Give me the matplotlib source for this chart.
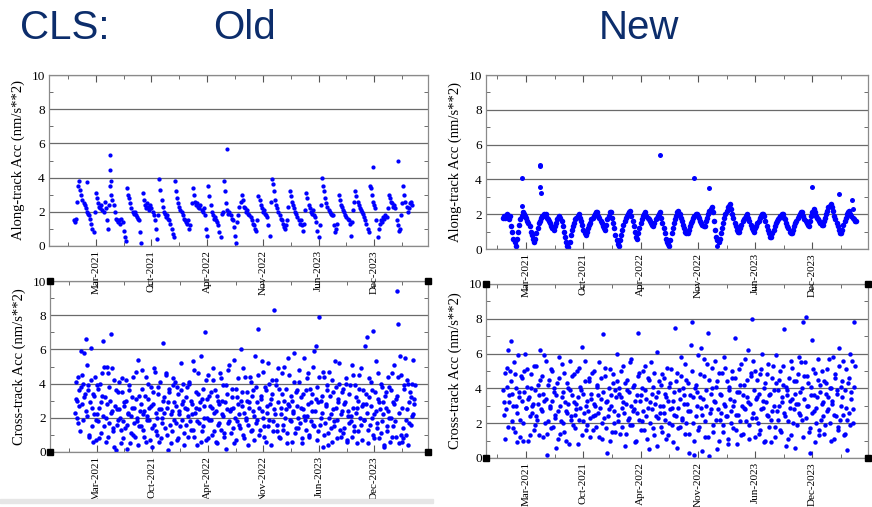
import numpy as np
import matplotlib
matplotlib.use('Agg')
import matplotlib.pyplot as plt
from matplotlib.ticker import MultipleLocator, FixedLocator
from matplotlib.patches import Rectangle

plt.rcParams['font.family'] = ['Liberation Serif', 'DejaVu Serif']

# time axis in days, one labelled tick every 200 days
tick_days = [0, 200, 400, 600, 800, 1000]
tick_labels = ['Mar-2021', 'Oct-2021', 'Apr-2022', 'Nov-2022', 'Jun-2023', 'Dec-2023']
step_days = 4

# ---- Old, along-track (one value every 4 days from day -80)
old_along_start = -80
old_along = [
    1.5, 1.4, 1.6, 2.6, 3.5, 3.8, 3.3, 3.0, 2.7, 2.5, 2.4, 2.2, 2.0, 1.9, 1.8, 1.6, 1.3, 1.0, 0.8,
    2.0, 3.1, 2.8, 2.5, 2.3, 2.2, 2.4, 2.1, 2.0, 2.6, 2.2, 1.5, 1.0, 2.4,
    3.5, 3.0, 2.7, 2.4, 2.0, 1.6, 1.5, 1.4, 1.5, 1.3, 1.6, 1.4, 0.9, 0.5,
    0.3, 3.4, 3.0, 2.8, 2.5, 2.2, 2.0, 1.9, 2.0, 1.8, 1.7, 1.6, 1.5, 0.8,
    0.2, 3.1, 2.7, 2.4, 2.2, 2.5, 2.3, 2.1, 2.4, 2.2, 2.0, 1.8, 1.5, 1.0, 0.4,
    1.8, 3.9, 3.3, 2.7, 2.3, 2.0, 1.9, 1.7, 1.8, 1.6, 1.5, 1.3, 1.0, 0.7, 0.5,
    3.8, 3.2, 2.8, 2.5, 2.3, 2.1, 2.0, 1.8, 1.6, 1.5, 1.4, 1.3, 1.5, 1.0, 1.2,
    2.5, 3.4, 3.0, 2.6, 2.4, 2.5, 2.3, 2.2, 2.4, 2.1, 2.0, 2.2, 1.8, 1.0, 0.6,
    3.5, 2.9, 2.4, 2.0, 1.8, 1.6, 1.7, 1.5, 1.4, 1.2, 0.8, 0.5, 1.9, 2.0,
    3.8, 3.2, 2.5, 2.1, 1.9, 2.0, 1.8, 1.6, 1.5, 1.1, 0.6, 0.2, 1.4, 1.8, 2.3,
    2.6, 3.0, 2.7, 2.3, 2.2, 2.0, 2.1, 1.9, 1.8, 1.7, 1.5, 1.3, 1.2, 1.0, 0.9,
    1.5, 2.9, 2.7, 2.4, 2.2, 2.0, 2.1, 1.9, 1.8, 1.7, 1.2, 0.6,
    2.6, 3.9, 3.6, 3.2, 2.7, 2.4, 2.2, 2.0, 1.8, 1.6, 1.5, 1.3, 1.1, 1.0, 1.2, 1.5, 2.3,
    3.2, 2.9, 2.6, 2.4, 2.2, 2.0, 1.9, 1.7, 1.5, 1.3, 1.5, 1.2, 0.9, 1.3, 2.1,
    3.1, 2.8, 2.4, 2.2, 2.0, 1.9, 2.1, 1.8, 1.7, 1.4, 0.9, 0.5, 1.2, 2.4,
    4.0, 3.5, 3.2, 2.8, 2.5, 2.3, 2.1, 2.0, 1.9, 1.8, 1.8, 1.2, 0.8, 1.0, 1.3,
    3.0, 2.7, 2.4, 2.3, 2.1, 2.0, 1.8, 1.7, 1.6, 1.5, 1.3, 0.6, 1.4, 2.1, 2.6,
    3.2, 2.9, 2.6, 2.4, 2.2, 2.1, 2.0, 1.9, 1.7, 1.5, 1.3, 1.0, 0.8, 3.5,
    3.4, 3.0, 2.6, 2.4, 2.2, 1.5, 0.5, 1.0, 1.3, 1.5, 1.4, 1.7, 1.6, 1.8, 1.7,
    2.2, 3.0, 2.8, 2.6, 2.5, 2.3, 2.4, 2.2, 1.5, 1.2, 0.9, 1.0, 1.8,
    2.5, 3.5, 3.0, 2.6, 2.3, 2.0, 2.2, 2.5, 2.6, 2.4,
]
old_along_spike_days = [-30, 52, 52, 53, 470, 995, 1087]
old_along_spike_vals = [3.75, 5.35, 4.45, 3.8, 5.7, 4.6, 4.95]

# ---- New, along-track (one value every 4 days from day -80)
new_along_start = -80
new_along = [
    1.8, 1.9, 1.8, 2.0, 1.9, 1.7, 1.9,
    1.3, 1.0, 0.6, 0.4, 0.2,
    0.6, 1.0, 1.4, 1.7, 1.9, 2.1, 2.0,
    1.9, 1.8, 1.6, 1.5, 1.3, 1.0, 0.8, 0.6, 0.4,
    0.6, 0.9, 1.2, 1.5, 1.6, 1.8, 1.9, 1.9, 2.0, 2.0,
    1.8, 1.7, 1.6, 1.5, 1.3, 1.2, 1.1, 1.3, 1.5, 1.7, 1.8, 1.9, 1.8,
    1.6, 1.3, 1.0, 0.7, 0.4, 0.2, 0.1,
    0.4, 0.8, 1.1, 1.3, 1.5, 1.7, 1.8, 1.9, 2.0,
    1.8, 1.6, 1.4, 1.1, 0.9, 0.8,
    1.0, 1.2, 1.4, 1.5, 1.7, 1.8, 1.9, 2.0, 2.1, 2.1,
    1.9, 1.8, 1.6, 1.5, 1.3, 1.2, 1.1,
    1.4, 1.7, 1.9, 2.1, 2.1,
    1.8, 1.5, 1.2, 0.8, 0.5, 0.3, 0.2,
    0.5, 0.8, 1.1, 1.4, 1.6, 1.8, 1.9, 2.0, 2.1, 2.2,
    1.9, 1.6, 1.3, 1.0, 0.7, 0.6,
    0.9, 1.2, 1.5, 1.7, 1.9, 2.0, 2.1,
    1.9, 1.8, 1.7, 1.6, 1.5, 1.4, 1.3,
    1.5, 1.7, 1.8, 1.9, 2.0, 2.1,
    1.8, 1.5, 1.2, 0.9, 0.6, 0.4, 0.3, 0.2,
    0.5, 0.9, 1.2, 1.5, 1.7, 1.9, 2.1, 2.2,
    2.0, 1.8, 1.6, 1.4, 1.2, 1.0, 0.9, 0.9,
    1.1, 1.3, 1.5, 1.6, 1.8, 1.9, 2.0, 2.0,
    1.9, 1.8, 1.6, 1.5, 1.4, 1.3, 1.3,
    1.6, 1.8, 2.0, 2.2, 2.3, 2.4,
    2.1, 1.6, 1.1, 0.7, 0.5, 0.4,
    0.6, 0.9, 1.2, 1.5, 1.8, 2.0, 2.2, 2.4, 2.5, 2.6,
    2.3, 2.0, 1.8, 1.5, 1.3, 1.1, 1.0, 1.0,
    1.2, 1.4, 1.6, 1.7, 1.8, 1.9, 2.0,
    1.8, 1.6, 1.4, 1.2, 1.1, 1.0,
    1.2, 1.3, 1.5, 1.6, 1.8, 1.9, 2.0, 2.0, 1.9,
    1.6, 1.3, 1.1, 0.9, 0.7, 0.7,
    0.9, 1.1, 1.3, 1.5, 1.6, 1.7, 1.8, 1.9, 2.0, 2.0,
    1.8, 1.7, 1.5, 1.3, 1.2, 1.0, 0.9, 0.9,
    1.1, 1.3, 1.5, 1.6, 1.8, 1.9, 2.0, 2.1, 2.1,
    1.9, 1.7, 1.6, 1.5, 1.4, 1.3,
    1.6, 1.9, 2.1, 2.3,
    2.1, 1.9, 1.8, 1.7, 1.6, 1.5, 1.4, 1.4,
    1.6, 1.8, 2.0, 2.2, 2.4, 2.5, 2.6,
    2.4, 2.2, 1.9, 1.7, 1.5, 1.3, 1.1, 0.9, 0.9,
    1.1, 1.4, 1.6, 1.8, 2.0, 2.1, 2.2,
    2.0, 1.9, 1.8, 1.7, 1.6, 1.6,
]
new_along_spike_days = [-15, -14, 48, 50, 49, 51, 468, 587, 640, 668, 998, 1091, 1137, 1143]
new_along_spike_vals = [4.1, 2.45, 4.8, 4.75, 3.55, 3.2, 5.4, 4.1, 3.5, 0.15, 3.55, 3.15, 2.8, 2.3]

# ---- Old, cross-track: two interleaved 4-day samplings (a from day -78, b from day -76)
old_cross_start = -78
old_cross = [
    2.3, 4.1, 3.0, 1.7, 3.6, 5.9, 2.8, 4.0, 5.8, 3.4, 6.6, 2.1, 3.9, 1.0, 6.1, 2.6, 0.6, 3.3, 4.4, 1.9,
    2.2, 3.7, 0.8, 2.9, 4.6, 6.5, 1.5, 3.2, 2.0, 5.0, 0.9, 3.8, 6.9, 2.4, 1.2, 4.2, 2.7, 0.1, 1.6, 3.5,
    2.5, 0.5, 4.3, 1.8, 2.9, 1.4, 3.0, 0.2, 2.2, 3.6, 1.1, 2.6, 4.4, 1.7, 0.9, 3.1, 2.0, 5.4, 1.5, 2.8,
    4.8, 1.3, 2.4, 3.3, 0.6, 2.1, 4.0, 1.9, 2.7, 0.3, 3.5, 1.6, 4.7, 2.3, 1.0, 3.8, 2.5, 0.8, 2.0, 6.4,
    3.2, 1.4, 4.5, 2.6, 0.1, 3.7, 2.2, 1.2, 3.9, 2.9, 4.1, 1.7, 0.7, 3.4, 2.4, 5.2, 1.9, 3.0, 0.4, 2.6,
    1.6, 3.8, 2.1, 4.0, 1.3, 2.8, 5.3, 0.9, 2.3, 3.5, 1.8, 4.6, 2.5, 0.6, 3.1, 1.5, 2.7, 7.0, 4.2, 2.0,
    0.8, 3.3, 1.9, 2.6, 4.9, 1.2, 3.6, 2.4, 0.5, 3.0, 1.7, 4.3, 2.2, 3.9, 1.1, 2.9, 0.2, 3.4, 4.8, 1.8,
    2.5, 3.7, 1.4, 5.4, 2.0, 0.7, 3.2, 2.8, 1.6, 6.0, 3.5, 1.0, 2.3, 4.4, 1.9, 3.0, 0.4, 2.6, 4.1, 1.3,
    3.6, 2.1, 5.6, 1.7, 2.9, 7.2, 1.0, 3.3, 2.4, 4.7, 1.5, 3.8, 0.6, 2.7, 5.2, 1.9, 3.1, 4.2, 1.2, 8.3,
    2.2, 3.9, 1.6, 4.9, 0.9, 2.6, 3.4, 1.3, 5.0, 2.0, 3.7, 0.5, 2.8, 4.5, 1.8, 3.0, 2.3, 5.8, 1.1, 3.5,
    2.7, 1.4, 4.1, 3.2, 0.8, 2.5, 5.5, 1.9, 3.6, 2.1, 4.6, 1.0, 2.9, 3.4, 1.6, 5.9, 2.4, 6.2, 3.8, 1.2,
    7.9, 2.0, 3.3, 0.3, 4.4, 1.7, 2.8, 3.9, 1.1, 4.7, 2.2, 0.6, 3.5, 1.5, 5.3, 2.6, 1.9, 3.1, 4.0, 0.9,
    2.4, 3.7, 1.4, 2.9, 4.3, 0.7, 2.1, 3.4, 1.8, 5.1, 2.6, 1.2, 3.9, 2.3, 0.5, 3.0, 4.5, 1.6, 2.7, 3.6,
    1.9, 6.2, 2.8, 6.7, 1.3, 3.2, 4.1, 2.0, 7.1, 0.8, 3.5, 2.4, 1.7, 4.6, 2.9, 1.1, 3.8, 2.2, 0.4, 3.3,
    2.6, 1.5, 4.4, 2.0, 3.6, 0.9, 2.9, 5.1, 1.8, 3.1, 9.4, 7.5, 2.3, 4.5, 0.6, 1.4, 3.9, 5.5, 1.0, 2.5,
    4.0, 1.7, 3.2, 2.1, 5.4, 2.8, 3.9,
]
old_cross_b_start = -76
old_cross_b = [
    3.1, 2.0, 4.4, 2.7, 1.2, 3.8, 4.5, 1.9, 3.2, 2.4, 5.1, 3.6, 0.9, 2.9, 4.2, 1.5, 3.4, 2.2, 0.7, 3.9,
    1.8, 2.6, 4.0, 1.1, 3.3, 2.1, 5.0, 0.6, 2.8, 4.6, 1.7, 3.0, 2.3, 4.9, 1.4, 0.3, 3.6, 2.5, 1.9, 4.1,
    2.0, 1.3, 3.5, 0.8, 2.7, 4.2, 1.6, 2.3, 3.9, 0.5, 2.1, 3.2, 1.0, 2.6, 4.7, 1.8, 0.4, 3.3, 2.4, 1.5,
    3.7, 2.2, 0.9, 4.4, 1.9, 3.1, 2.6, 0.7, 3.8, 1.4, 2.8, 4.9, 1.2, 2.0, 3.4, 0.6, 4.1, 2.5, 1.7, 3.0,
    2.3, 4.6, 1.0, 2.9, 3.5, 1.6, 0.5, 2.4, 4.3, 1.9, 2.7, 3.8, 0.8, 2.2, 1.5, 3.6, 2.8, 4.0, 1.1, 3.2,
    2.5, 0.9, 4.1, 1.8, 3.0, 2.2, 1.3, 4.8, 2.6, 0.4, 3.4, 1.7, 2.9, 5.6, 1.2, 3.7, 2.0, 0.7, 3.1, 4.5,
    1.9, 2.7, 3.5, 1.0, 4.2, 2.3, 0.6, 3.3, 1.6, 2.8, 4.6, 1.3, 3.0, 2.1, 0.9, 3.9, 2.5, 1.7, 5.1, 2.4,
    1.1, 3.2, 2.6, 0.5, 3.7, 1.8, 4.3, 2.2, 1.4, 3.0, 2.7, 4.9, 0.8, 2.0, 3.5, 1.6, 2.9, 4.4, 1.2, 3.3,
    2.4, 0.7, 3.8, 1.9, 4.5, 2.6, 1.3, 3.1, 5.3, 2.0, 0.9, 3.6, 2.3, 1.5, 4.0, 2.8, 0.4, 3.4, 1.8, 2.5,
    4.2, 1.2, 2.9, 3.7, 0.8, 2.2, 4.6, 1.6, 3.0, 2.5, 1.1, 5.5, 2.7, 1.9, 3.3, 0.6, 2.4, 4.1, 1.4, 3.6,
    2.0, 4.8, 1.7, 2.6, 0.5, 3.4, 2.1, 1.3, 4.3, 2.8, 0.9, 3.7, 1.8, 2.4, 5.0, 1.5, 3.1, 0.7, 2.9, 4.4,
    1.6, 3.0, 2.3, 4.7, 1.0, 2.7, 3.6, 0.4, 2.0, 3.3, 1.4, 4.2, 2.5, 1.8, 3.8, 0.8, 2.9, 5.2, 1.3, 2.2,
    3.5, 1.1, 2.8, 4.0, 0.6, 2.4, 1.7, 3.9, 2.1, 0.9, 4.5, 1.5, 3.2, 2.6, 1.2, 3.7, 2.0, 4.9, 0.7, 2.8,
    1.9, 3.4, 2.3, 0.5, 4.3, 1.6, 2.7, 3.6, 1.0, 2.2, 5.3, 1.4, 3.1, 0.8, 2.5, 4.0, 1.8, 2.9, 0.3, 3.5,
    1.2, 2.4, 3.8, 0.6, 2.0, 4.6, 1.5, 2.8, 0.9, 3.3, 4.4, 0.5, 5.6, 1.0, 2.6, 0.8, 3.7, 1.9, 4.2, 0.4,
    2.9, 3.5, 1.6, 4.0, 2.2, 3.1,
]

# ---- New, cross-track: two interleaved 4-day samplings (a from day -80, b from day -78)
new_cross_start = -80
new_cross = [
    3.9, 2.5, 1.1, 4.1, 6.2, 3.2, 5.0, 6.7, 3.7, 1.7, 4.8, 3.0, 0.9, 5.9, 3.5, 2.2, 4.6, 1.0, 3.8, 6.0,
    2.9, 5.1, 3.4, 1.3, 4.0, 2.6, 3.1, 5.3, 1.9, 2.4, 4.2, 3.6, 6.2, 2.8, 4.7, 1.2, 3.3, 5.6, 0.2, 2.1,
    4.5, 3.0, 1.7, 5.0, 3.8, 2.3, 0.6, 4.3, 2.7, 5.8, 1.4, 3.5, 2.0, 4.9, 3.2, 1.0, 2.6, 4.0, 5.6, 2.2,
    3.6, 1.9, 4.8, 2.5, 3.1, 0.8, 5.2, 2.9, 3.9, 6.4, 2.1, 4.4, 1.6, 3.3, 2.7, 4.6, 1.2, 3.7, 2.4, 5.0,
    3.0, 1.8, 4.1, 2.6, 5.5, 3.4, 1.1, 7.1, 2.3, 4.7, 3.2, 0.3, 2.8, 5.1, 3.6, 1.5, 4.3, 2.0, 3.9, 6.0,
    2.5, 4.0, 1.4, 3.5, 2.9, 5.3, 0.7, 3.1, 4.5, 2.2, 3.8, 1.9, 5.7, 2.7, 4.2, 3.3, 1.0, 2.6, 7.2, 4.9,
    3.6, 2.1, 5.0, 1.6, 3.9, 2.4, 4.6, 0.5, 3.2, 5.5, 2.8, 4.1, 1.3, 3.5, 6.1, 2.3, 4.4, 3.0, 1.8, 4.8,
    2.6, 3.7, 1.1, 5.2, 3.3, 2.0, 4.3, 2.9, 0.9, 3.8, 7.5, 2.4, 4.9, 1.7, 3.4, 5.8, 2.2, 4.0, 3.1, 1.4,
    4.5, 2.7, 0.3, 3.6, 6.5, 7.8, 2.0, 0.2, 4.2, 3.0, 5.9, 1.8, 3.5, 6.3, 2.5, 4.7, 1.2, 3.9, 5.4, 7.2,
    0.1, 2.8, 4.0, 1.5, 3.3, 5.6, 2.2, 4.4, 1.0, 3.7, 2.6, 4.9, 1.9, 3.1, 5.2, 2.4, 0.8, 4.1, 3.4, 2.0,
    4.6, 3.0, 6.9, 1.6, 3.8, 2.5, 5.1, 4.2, 1.3, 3.6, 2.9, 5.7, 2.1, 4.5, 3.2, 1.1, 4.9, 8.0, 2.6, 3.9,
    5.0, 2.3, 3.5, 1.4, 4.8, 2.8, 6.0, 3.3, 0.9, 4.3, 2.5, 5.4, 1.8, 3.7, 2.2, 4.6, 3.0, 1.2, 5.9, 2.7,
    3.9, 4.5, 1.6, 3.2, 5.3, 7.4, 2.4, 4.1, 3.6, 1.1, 2.9, 5.6, 3.4, 2.0, 4.4, 0.6, 3.1, 4.8, 2.6, 3.8,
    5.5, 2.2, 7.8, 4.7, 8.1, 3.0, 4.3, 1.5, 0.3, 3.6, 6.8, 2.7, 4.9, 2.0, 3.5, 5.7, 1.3, 4.2, 3.1, 2.4,
    4.4, 1.9, 3.7, 5.1, 2.8, 4.0, 1.0, 3.3, 5.8, 2.5, 4.6, 3.9, 1.6, 6.3, 2.2, 4.1, 3.5, 5.6, 1.4, 2.9,
    0.45, 4.3, 2.6, 6.0, 3.8, 2.0, 7.8, 5.3,
]
new_cross_b_start = -78
new_cross_b = [
    3.2, 4.9, 2.8, 5.2, 1.8, 3.6, 4.4, 2.1, 3.0, 5.5, 1.5, 4.0, 2.6, 3.8, 1.2, 4.7, 3.3, 2.0, 5.0, 2.9,
    4.1, 1.0, 3.5, 2.4, 4.8, 3.0, 1.6, 3.9, 5.3, 2.2, 3.1, 1.3, 4.5, 2.7, 3.7, 5.9, 2.0, 3.4, 1.4, 4.2,
    2.9, 5.1, 3.3, 1.8, 4.0, 2.5, 3.6, 1.1, 4.6, 3.0, 2.1, 5.4, 3.8, 1.5, 2.7, 4.3, 3.1, 0.8, 3.9, 2.4,
    4.7, 3.2, 1.7, 2.8, 5.0, 3.5, 2.2, 4.1, 1.3, 3.7, 2.6, 5.6, 3.0, 1.9, 4.4, 2.3, 3.4, 4.9, 1.6, 3.1,
    2.5, 4.2, 3.6, 1.2, 2.9, 4.6, 2.0, 3.8, 5.2, 1.7, 3.3, 2.4, 4.0, 1.0, 3.0, 4.8, 2.7, 1.5, 3.5, 4.4,
    2.1, 3.7, 5.0, 1.8, 3.2, 2.6, 4.3, 1.4, 3.9, 2.3, 5.5, 3.0, 1.9, 4.1, 2.8, 0.9, 3.6, 4.7, 2.2, 3.3,
    1.6, 4.0, 2.7, 5.3, 3.4, 1.1, 2.9, 4.5, 2.0, 3.7, 1.7, 4.9, 3.1, 2.4, 0.7, 3.8, 2.6, 4.2, 1.5, 3.0,
    4.6, 2.2, 3.5, 1.3, 4.1, 2.8, 5.1, 1.9, 3.3, 2.5, 4.4, 0.6, 2.9, 3.9, 1.8, 4.7, 2.3, 3.6, 5.4, 2.0,
    3.1, 4.3, 1.4, 2.7, 5.0, 3.5, 1.0, 4.0, 2.4, 3.8, 1.6, 4.8, 2.9, 0.4, 3.4, 5.7, 2.1, 3.0, 1.2, 4.5,
    2.6, 3.7, 5.2, 1.9, 3.2, 4.1, 0.5, 2.8, 4.9, 2.2, 3.6, 1.5, 5.8, 3.0, 2.4, 4.4, 1.1, 3.9, 2.7, 5.0,
    1.7, 3.3, 4.6, 2.5, 0.8, 3.8, 2.1, 5.4, 3.0, 1.4, 4.2, 2.8, 3.5, 6.2, 1.9, 3.1, 4.7, 2.3, 5.6, 1.2,
    3.4, 4.5, 2.0, 3.7, 1.6, 5.1, 2.9, 4.0, 1.0, 3.2, 4.8, 2.4, 3.6, 0.9, 2.7, 5.3, 3.9, 1.8, 4.3, 2.2,
    3.0, 5.0, 1.5, 3.5, 4.2, 2.6, 0.7, 3.9, 2.1, 4.6, 3.3, 1.3, 5.2, 2.8, 3.7, 4.4, 1.9, 3.1, 5.8, 2.5,
    4.0, 1.2, 3.4, 5.5, 2.3, 4.7, 3.0, 1.7, 4.1, 2.6, 5.1, 3.6, 0.9, 2.9, 4.5, 1.6, 3.8, 2.2, 5.0, 3.2,
    1.4, 4.3, 2.7, 3.5, 5.7, 2.0, 4.0, 3.1, 1.1, 4.8, 2.4, 3.7, 1.8, 5.3, 3.0, 4.4, 2.5, 1.3, 3.9, 5.1,
    2.2, 4.6, 1.9, 3.4, 5.6, 2.8, 4.1,
]

W, H = 872, 507
fig = plt.figure(figsize=(W / 100, H / 100), dpi=100)
blue = '#0000ff'
navy = '#0c2d6b'


def make_axes(x0, x1, ytop, ybot, xlim, ylabel):
    ax = fig.add_axes([x0 / W, 1 - ybot / H, (x1 - x0) / W, (ybot - ytop) / H])
    ax.set_xlim(*xlim)
    ax.set_ylim(0, 10)
    ax.xaxis.set_major_locator(FixedLocator(tick_days))
    ax.set_xticklabels(tick_labels, rotation=90, fontsize=8)
    ax.xaxis.set_minor_locator(MultipleLocator(100))
    ax.yaxis.set_major_locator(MultipleLocator(2))
    ax.yaxis.set_minor_locator(MultipleLocator(1))
    ax.tick_params(which='both', direction='in', top=True, right=True, color='#555555')
    ax.tick_params(axis='x', which='major', length=5, pad=3)
    ax.tick_params(axis='x', which='minor', length=3)
    ax.tick_params(axis='y', which='major', length=0, labelsize=9.5, pad=3)
    ax.tick_params(axis='y', which='minor', length=3)
    ax.yaxis.grid(True, color='#6a6a6a', lw=0.9)
    ax.set_axisbelow(True)
    for s in ax.spines.values():
        s.set_color('#8a8a8a')
        s.set_linewidth(0.9)
    ax.set_ylabel(ylabel, fontsize=10.5, labelpad=5)
    return ax


def series_days(start, vals):
    return start + step_days * np.arange(len(vals))


def corner_handles(ax):
    ax.plot([0, 1, 0, 1], [0, 0, 1, 1], 's', transform=ax.transAxes, color='black',
            ms=4, clip_on=False, zorder=6)


along_lbl = 'Along-track Acc (nm/s**2)'
cross_lbl = 'Cross-track Acc (nm/s**2)'

# bottom row first so the top row's date labels sit over it
bl = make_axes(50, 428, 281, 452, (-168, 1193), cross_lbl)
bl.set_facecolor('none')
bl.plot(series_days(old_cross_start, old_cross), old_cross, 'o', color=blue, ms=3.2, mew=0)
bl.plot(series_days(old_cross_b_start, old_cross_b), old_cross_b, 'o', color=blue, ms=3.2, mew=0)
corner_handles(bl)

br = make_axes(486, 868, 284, 458, (-140, 1194), cross_lbl)
br.set_facecolor('none')
br.plot(series_days(new_cross_start, new_cross), new_cross, 'o', color=blue, ms=3.2, mew=0)
br.plot(series_days(new_cross_b_start, new_cross_b), new_cross_b, 'o', color=blue, ms=3.2, mew=0)
corner_handles(br)

tl = make_axes(49, 428, 75, 246, (-168, 1193), along_lbl)
tl.plot(series_days(old_along_start, old_along), old_along, 'o', color=blue, ms=3.1, mew=0)
tl.plot(old_along_spike_days, old_along_spike_vals, 'o', color=blue, ms=3.0, mew=0)

tr = make_axes(486, 868, 75, 249, (-140, 1194), along_lbl)
tr.plot(series_days(new_along_start, new_along), new_along, 'o', color=blue, ms=4.0, mew=0)
tr.plot(new_along_spike_days, new_along_spike_vals, 'o', color=blue, ms=3.6, mew=0)

# slide heading
for txt, xp in [('CLS:', 20), ('Old', 213), ('New', 599)]:
    fig.text(xp / W, 1 - 39 / H, txt, fontsize=29, color=navy,
             family=['Liberation Sans', 'DejaVu Sans'], va='baseline', ha='left')

fig.patches.append(Rectangle((0, 4 / H), 433 / W, 4 / H, transform=fig.transFigure,
                             color='#e6e6e6', zorder=0))

fig.savefig('out.png', dpi=100)
